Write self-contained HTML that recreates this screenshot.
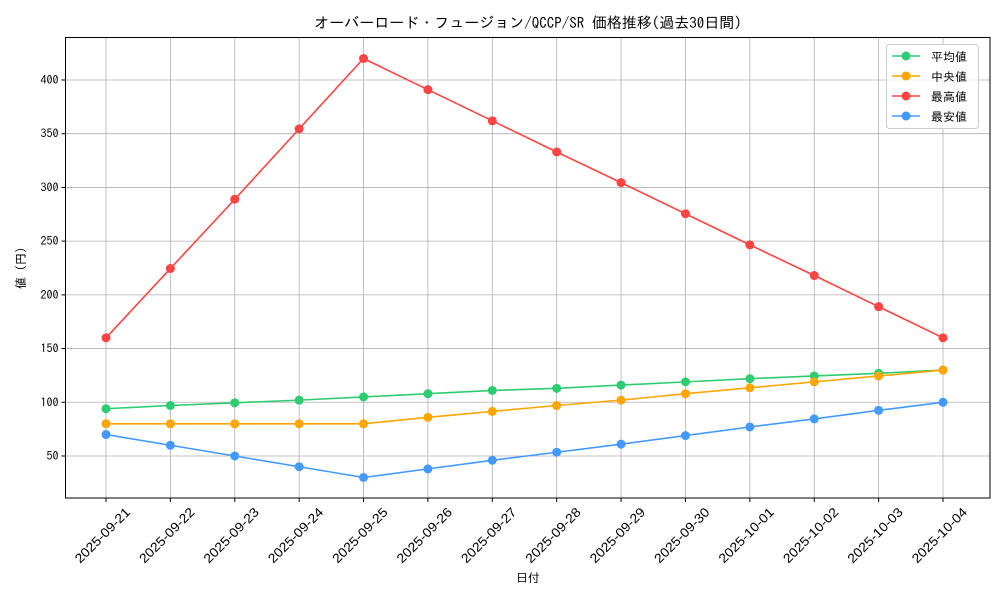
<!DOCTYPE html>
<html><head><meta charset="utf-8"><style>
body{margin:0;background:#fff}
svg{display:block;font-family:"IPAGothic","Liberation Sans","Noto Sans CJK JP",sans-serif}
</style></head><body>
<svg id="c" width="1000" height="600" xmlns="http://www.w3.org/2000/svg"></svg>
<script>
const s=document.getElementById('c');
let h='<rect width="1000" height="600" fill="#fff"/>';
const L=65.5,R=990,T=37.5,B=498;
const X=i=>106+i*64.385, Y=v=>456-(v-50)*1.0743;
const dates=['2025-09-21','2025-09-22','2025-09-23','2025-09-24','2025-09-25','2025-09-26','2025-09-27','2025-09-28','2025-09-29','2025-09-30','2025-10-01','2025-10-02','2025-10-03','2025-10-04'];
for(let i=0;i<14;i++){const x=X(i);
h+=`<line x1="${x}" y1="${T}" x2="${x}" y2="${B}" stroke="#b0b0b0" stroke-width="0.8"/>`;
h+=`<line x1="${x}" y1="${B}" x2="${x}" y2="${B+4}" stroke="#000"/>`;
h+=`<text x="${x+25}" y="${B+15}" font-size="13" font-family="Liberation Sans, sans-serif" textLength="72" lengthAdjust="spacingAndGlyphs" text-anchor="end" transform="rotate(-45 ${x+25} ${B+15})">${dates[i]}</text>`;}
for(let v=50;v<=400;v+=50){const y=Y(v);
h+=`<line x1="${L}" y1="${y}" x2="${R}" y2="${y}" stroke="#b0b0b0" stroke-width="0.8"/>`;
h+=`<line x1="${L-4}" y1="${y}" x2="${L}" y2="${y}" stroke="#000"/>`;
h+=`<text x="${L-7}" y="${y+4}" font-size="12" text-anchor="end">${v}</text>`;}
const S=[
['#2ecc71',[94,97,99.5,102,105,108,111,113,116,119,122,124.5,127,130]],
['#ffa500',[80,80,80,80,80,86,91.5,97,102,108,113.5,119,124.5,130]],
['#ff4444',[160,224.5,289,354.5,420,391,362,333,304.5,275.5,246.5,218,189,160]],
['#4499ff',[70,60,50,40,30,38,46,53.5,61,69,77,84.5,92.5,100]]];
for(const [c,d] of S){h+=`<polyline fill="none" stroke="${c}" stroke-width="1.6" points="${d.map((v,i)=>X(i)+','+Y(v)).join(' ')}"/>`;
d.forEach((v,i)=>h+=`<circle cx="${X(i)}" cy="${Y(v)}" r="4.5" fill="${c}"/>`);}
h+=`<rect x="${L}" y="${T}" width="${R-L}" height="${B-T}" fill="none" stroke="#000" stroke-width="1"/>`;
h+=`<text x="528" y="28" font-size="15" text-anchor="middle">オーバーロード・フュージョン/QCCP/SR 価格推移(過去30日間)</text>`;
h+=`<text x="528" y="582" font-size="12" text-anchor="middle">日付</text>`;
h+=`<text x="25" y="268" font-size="12" text-anchor="middle" transform="rotate(-90 25 268)">値 (円)</text>`;
h+=`<rect x="886.5" y="44.5" width="92" height="84" rx="3" fill="#fff" fill-opacity="0.85" stroke="#ccc"/>`;
const n=['平均値','中央値','最高値','最安値'];
S.forEach(([c],i)=>{const y=56+i*20;
h+=`<line x1="892" y1="${y}" x2="920" y2="${y}" stroke="${c}" stroke-width="1.6"/><circle cx="906" cy="${y}" r="4.5" fill="${c}"/>`;
h+=`<text x="931" y="${y+5}" font-size="12">${n[i]}</text>`;});
s.innerHTML=h;
</script>
</body></html>
